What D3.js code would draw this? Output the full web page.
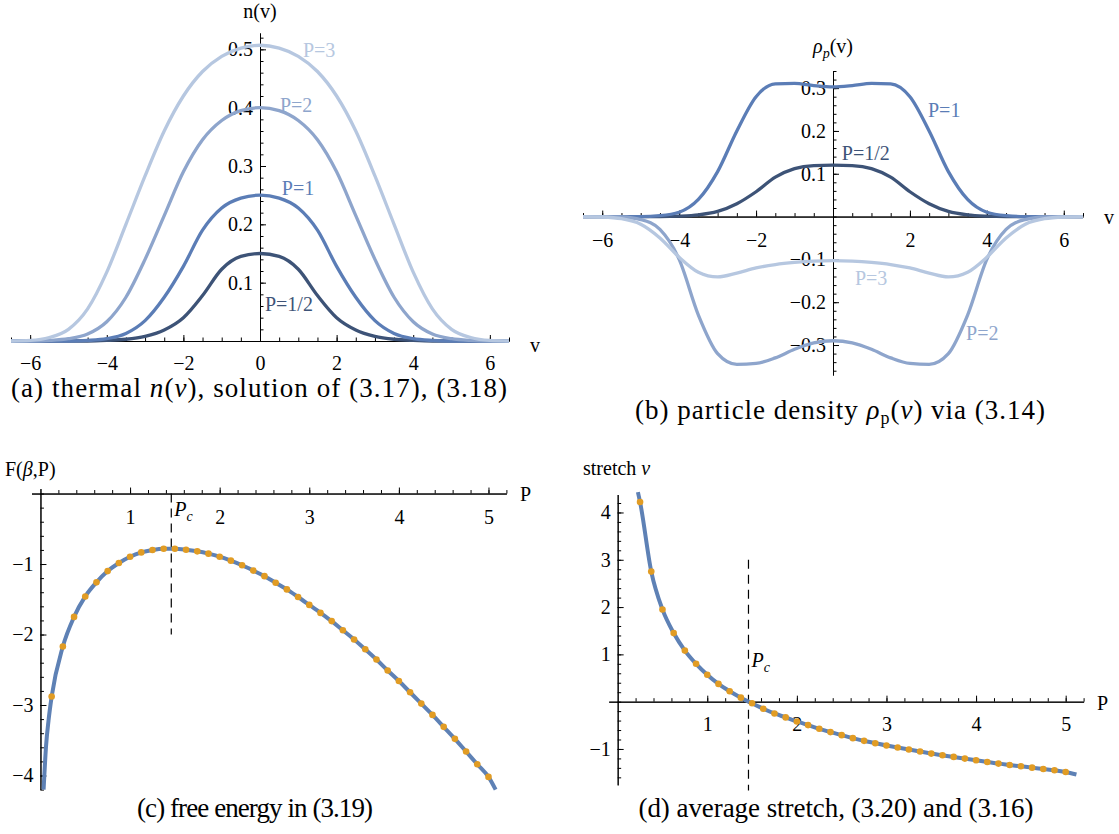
<!DOCTYPE html>
<html>
<head>
<meta charset="utf-8">
<script src="https://cdn.jsdelivr.net/npm/d3@7"></script>
<style>
body { margin: 0; background: #fff; }
</style>
</head>
<body>
<svg id="fig" width="1119" height="834"></svg>
<script>
// ---- data ----
var vSamples = [-6.5,-6,-5.5,-5,-4.5,-4,-3.5,-3,-2.5,-2,-1.5,-1,-0.5,0,0.5,1,1.5,2,2.5,3,3.5,4,4.5,5,5.5,6,6.5];

// (a) n(v)
var nHalf = [0,0,0,0,0,0.001,0.003,0.008,0.019,0.04,0.078,0.123,0.145,0.150,0.145,0.123,0.078,0.04,0.019,0.008,0.003,0.001,0,0,0,0,0];
var nP1   = [0,0,0,0,0.001,0.004,0.013,0.035,0.075,0.128,0.19,0.228,0.245,0.25,0.245,0.228,0.19,0.128,0.075,0.035,0.013,0.004,0.001,0,0,0,0];
var nP2   = [0,0,0.001,0.004,0.012,0.033,0.075,0.14,0.215,0.29,0.345,0.378,0.395,0.40,0.395,0.378,0.345,0.29,0.215,0.14,0.075,0.033,0.012,0.004,0.001,0,0];
var nP3   = [0,0.001,0.006,0.02,0.055,0.118,0.2,0.283,0.36,0.42,0.462,0.488,0.502,0.507,0.502,0.488,0.462,0.42,0.36,0.283,0.2,0.118,0.055,0.02,0.006,0.001,0];

// (b) rho_p(v)
var rhoHalf = [0,0,0,0,0,0.001,0.004,0.012,0.03,0.058,0.092,0.112,0.119,0.120,0.119,0.112,0.092,0.058,0.03,0.012,0.004,0.001,0,0,0,0,0];
var rhoP1   = [0,0,0,0,0.002,0.01,0.04,0.105,0.2,0.28,0.31,0.311,0.306,0.303,0.306,0.311,0.31,0.28,0.2,0.105,0.04,0.01,0.002,0,0,0,0];
var rhoP2   = [0,0,-0.001,-0.007,-0.03,-0.1,-0.23,-0.32,-0.345,-0.343,-0.33,-0.31,-0.295,-0.29,-0.295,-0.31,-0.33,-0.343,-0.345,-0.32,-0.23,-0.1,-0.03,-0.007,-0.001,0,0];
var rhoP3   = [0,-0.001,-0.005,-0.018,-0.05,-0.095,-0.13,-0.141,-0.132,-0.12,-0.112,-0.107,-0.104,-0.103,-0.104,-0.107,-0.112,-0.12,-0.132,-0.141,-0.13,-0.095,-0.05,-0.018,-0.005,-0.001,0];

var seriesNames = ["P=1/2", "P=1", "P=2", "P=3"];
var seriesColors = ["#3d5377", "#5b7db6", "#8ea5cc", "#b6c7e0"];

// (c) free energy: dots at P = 1/8 .. 5
var dotP = [0.125,0.25,0.375,0.5,0.625,0.75,0.875,1,1.125,1.25,1.375,1.5,1.625,1.75,1.875,2,2.125,2.25,2.375,2.5,2.625,2.75,2.875,3,3.125,3.25,3.375,3.5,3.625,3.75,3.875,4,4.125,4.25,4.375,4.5,4.625,4.75,4.875,5];
var freeF = [-2.88,-2.17,-1.75,-1.46,-1.26,-1.10,-0.985,-0.896,-0.835,-0.80,-0.783,-0.783,-0.797,-0.82,-0.853,-0.896,-0.952,-1.018,-1.093,-1.172,-1.266,-1.36,-1.468,-1.58,-1.693,-1.81,-1.94,-2.07,-2.21,-2.354,-2.51,-2.66,-2.82,-2.98,-3.14,-3.31,-3.48,-3.66,-3.84,-4.02];
var freeHeadP = [0.035, 0.0625, 0.09], freeHeadF = [-4.2, -3.58, -3.22];
var freeTailP = [5.08], freeTailF = [-4.2];

// (d) stretch: dots at P = 2/8 .. 5
var stretchNu = [4.22,2.75,1.95,1.45,1.08,0.80,0.57,0.375,0.22,0.085,-0.035,-0.15,-0.25,-0.333,-0.418,-0.496,-0.574,-0.644,-0.708,-0.772,-0.829,-0.878,-0.928,-0.97,-1.013,-1.055,-1.098,-1.133,-1.168,-1.204,-1.24,-1.275,-1.31,-1.338,-1.367,-1.395,-1.423,-1.45,-1.487];
var stretchHeadP = [0.226], stretchHeadNu = [4.43];
var stretchTailP = [5.12], stretchTailNu = [-1.54];

var Pc = 1.46;

var blue = "#5e81b5", orange = "#e19c24";
var serif = "Liberation Serif";
var svg = d3.select("#fig");
var fmt1 = d3.format(".1f"), fmt0 = d3.format("d");

function drawAxes(x, y, o) {
    var g = svg.append("g");
    var xAxis = g.append("g").attr("transform", "translate(0," + y(0) + ")");
    xAxis.call(d3.axisBottom(x).tickValues(o.xMinor).tickSize(-3.5).tickSizeOuter(0).tickFormat(""));
    xAxis.append("g").call(d3.axisBottom(x).tickValues(o.xMajor).tickSize(-6).tickSizeOuter(0)
        .tickPadding(o.xPad).tickFormat(o.xFmt));
    var yAxis = g.append("g").attr("transform", "translate(" + x(0) + ",0)");
    yAxis.call(d3.axisLeft(y).tickValues(o.yMinor).tickSize(-3.5).tickSizeOuter(0).tickFormat(""));
    yAxis.append("g").call(d3.axisLeft(y).tickValues(o.yMajor).tickSize(-6).tickSizeOuter(0)
        .tickPadding(7).tickFormat(o.yFmt));
    g.selectAll("g").attr("font-family", serif).attr("font-size", 20);
    g.selectAll("text").attr("fill", "#000");
    g.selectAll("path, line").attr("stroke", "#000").attr("stroke-width", 1);
    g.selectAll(".tick").filter(function(d) { return Math.abs(d) < 1e-9 && !o.showZero; }).select("text").remove();
    return g;
}

function minorTicks(lo, hi, step) {
    return d3.range(Math.round(lo / step), Math.round(hi / step) + 1).map(function(k) { return k * step; });
}

function label(x, y, size) {
    return svg.append("text").attr("x", x).attr("y", y).attr("font-family", serif).attr("font-size", size);
}

// ---------- (a) ----------
var xa = d3.scaleLinear().domain([-6.5, 6.5]).range([11, 509]);
var ya = d3.scaleLinear().domain([0, 0.528]).range([341, 33]);
drawAxes(xa, ya, {
    xMinor: minorTicks(-6.5, 6.5, 0.5), xMajor: [-6,-4,-2,0,2,4,6], xPad: 15, xFmt: fmt0, showZero: true,
    yMinor: minorTicks(0, 0.52, 0.02), yMajor: [0.1,0.2,0.3,0.4,0.5], yFmt: fmt1
});
var lineA = d3.line().x(function(d) { return xa(d[0]); }).y(function(d) { return ya(d[1]); }).curve(d3.curveMonotoneX);
[nHalf, nP1, nP2, nP3].forEach(function(vals, i) {
    svg.append("path").datum(vSamples.map(function(v, k) { return [v, vals[k]]; }))
        .attr("d", lineA).attr("fill", "none").attr("stroke", seriesColors[i]).attr("stroke-width", 3.3);
});
label(xa(0), 18, 20).attr("text-anchor", "middle").text("n(v)");
label(530, 352, 20).text("v");
var labA = [[0.13, 0.051], [0.57, 0.25], [0.52, 0.393], [1.12, 0.487]];
labA.forEach(function(p, i) {
    label(xa(p[0]), ya(p[1]), 20).attr("fill", seriesColors[i]).text(seriesNames[i]);
});

// ---------- (b) ----------
var xb = d3.scaleLinear().domain([-6.5, 6.5]).range([583, 1083]);
var yb = d3.scaleLinear().domain([-0.37, 0.34]).range([375, 71]);
drawAxes(xb, yb, {
    xMinor: minorTicks(-6.5, 6.5, 0.5), xMajor: [-6,-4,-2,2,4,6], xPad: 16, xFmt: fmt0,
    yMinor: minorTicks(-0.36, 0.34, 0.02), yMajor: [-0.3,-0.2,-0.1,0.1,0.2,0.3], yFmt: fmt1
});
var lineB = d3.line().x(function(d) { return xb(d[0]); }).y(function(d) { return yb(d[1]); }).curve(d3.curveMonotoneX);
[rhoHalf, rhoP1, rhoP2, rhoP3].forEach(function(vals, i) {
    svg.append("path").datum(vSamples.map(function(v, k) { return [v, vals[k]]; }))
        .attr("d", lineB).attr("fill", "none").attr("stroke", seriesColors[i]).attr("stroke-width", 3.3);
});
var rl = label(xb(0), 53, 20).attr("text-anchor", "middle");
rl.append("tspan").attr("font-style", "italic").text("ρ");
rl.append("tspan").attr("font-style", "italic").attr("font-size", 14).attr("dy", 5).text("p");
rl.append("tspan").attr("dy", -5).text("(v)");
label(1104, 224, 20).text("v");
var labB = [[0.23, 0.132], [2.47, 0.232], [3.46, -0.289], [0.57, -0.16]];
labB.forEach(function(p, i) {
    label(xb(p[0]), yb(p[1]), 20).attr("fill", seriesColors[i]).text(seriesNames[i]);
});

// ---------- (c) ----------
var xc = d3.scaleLinear().domain([-0.1, 5.2]).range([31.5, 506.4]);
var yc = d3.scaleLinear().domain([-4.2, 0.07]).range([789.6, 488.6]);
drawAxes(xc, yc, {
    xMinor: minorTicks(0.2, 5.2, 0.2), xMajor: [1,2,3,4,5], xPad: 16, xFmt: fmt0,
    yMinor: minorTicks(-4.2, 0, 0.2), yMajor: [-4,-3,-2,-1], yFmt: fmt0
});
svg.append("line").attr("x1", xc(Pc)).attr("x2", xc(Pc)).attr("y1", yc(0)).attr("y2", yc(-2))
    .attr("stroke", "#000").attr("stroke-width", 1.2).attr("stroke-dasharray", "9,6");
var freePts = freeHeadP.map(function(p, k) { return [p, freeHeadF[k]]; })
    .concat(dotP.map(function(p, k) { return [p, freeF[k]]; }))
    .concat(freeTailP.map(function(p, k) { return [p, freeTailF[k]]; }));
svg.append("path").datum(freePts)
    .attr("d", d3.line().x(function(d) { return xc(d[0]); }).y(function(d) { return yc(d[1]); }).curve(d3.curveMonotoneX))
    .attr("fill", "none").attr("stroke", blue).attr("stroke-width", 4);
svg.append("g").selectAll("circle").data(dotP).enter().append("circle")
    .attr("cx", function(d) { return xc(d); })
    .attr("cy", function(d, k) { return yc(freeF[k]); })
    .attr("r", 3.3).attr("fill", orange);
var fl = label(5, 476, 20);
fl.append("tspan").text("F(");
fl.append("tspan").attr("font-style", "italic").text("β");
fl.append("tspan").text(",P)");
label(520, 501, 20).text("P");
var pc1 = label(xc(Pc) + 3, 516, 20).attr("font-style", "italic");
pc1.append("tspan").text("P");
pc1.append("tspan").attr("font-size", 14).attr("dy", 5).text("c");

// ---------- (d) ----------
var xd = d3.scaleLinear().domain([-0.1, 5.2]).range([608.7, 1083.6]);
var yd = d3.scaleLinear().domain([-1.76, 4.38]).range([784.9, 494.5]);
drawAxes(xd, yd, {
    xMinor: minorTicks(0.2, 5.2, 0.2), xMajor: [1,2,3,4,5], xPad: 15, xFmt: fmt0,
    yMinor: minorTicks(-1.6, 4.2, 0.2), yMajor: [-1,1,2,3,4], yFmt: fmt0
});
svg.append("line").attr("x1", xd(Pc)).attr("x2", xd(Pc)).attr("y1", yd(3)).attr("y2", yd(-1.88))
    .attr("stroke", "#000").attr("stroke-width", 1.2).attr("stroke-dasharray", "9,6");
var stretchP = dotP.slice(1);
var stretchPts = stretchHeadP.map(function(p, k) { return [p, stretchHeadNu[k]]; })
    .concat(stretchP.map(function(p, k) { return [p, stretchNu[k]]; }))
    .concat(stretchTailP.map(function(p, k) { return [p, stretchTailNu[k]]; }));
svg.append("path").datum(stretchPts)
    .attr("d", d3.line().x(function(d) { return xd(d[0]); }).y(function(d) { return yd(d[1]); }).curve(d3.curveMonotoneX))
    .attr("fill", "none").attr("stroke", blue).attr("stroke-width", 4);
svg.append("g").selectAll("circle").data(stretchP).enter().append("circle")
    .attr("cx", function(d) { return xd(d); })
    .attr("cy", function(d, k) { return yd(stretchNu[k]); })
    .attr("r", 3.3).attr("fill", orange);
var sl = label(583, 475, 20);
sl.append("tspan").text("stretch ");
sl.append("tspan").attr("font-style", "italic").text("ν");
label(1097, 710, 20).text("P");
var pc2 = label(xd(Pc) + 3, 667, 20).attr("font-style", "italic");
pc2.append("tspan").text("P");
pc2.append("tspan").attr("font-size", 14).attr("dy", 5).text("c");

// ---------- captions ----------
function caption(cx, cy, width, parts) {
    var t = label(cx, cy, 27).attr("text-anchor", "middle")
        .attr("textLength", width).attr("lengthAdjust", "spacing");
    parts.forEach(function(p) {
        var s = t.append("tspan").text(p[0]);
        if (p[1] === "i") s.attr("font-style", "italic");
        if (p[1] === "sub") s.attr("font-size", 18).attr("dy", 5);
        if (p[1] === "up") s.attr("dy", -5);
    });
}
caption(259, 397, 496, [["(a) thermal "], ["n", "i"], ["("], ["v", "i"], ["), solution of (3.17), (3.18)"]]);
caption(840, 419, 410, [["(b) particle density "], ["ρ", "i"], ["p", "sub"], ["(", "up"], ["v", "i"], [") via (3.14)"]]);
caption(255, 817, 236, [["(c) free energy in (3.19)"]]);
caption(836, 817, 395, [["(d) average stretch, (3.20) and (3.16)"]]);
</script>
</body>
</html>
